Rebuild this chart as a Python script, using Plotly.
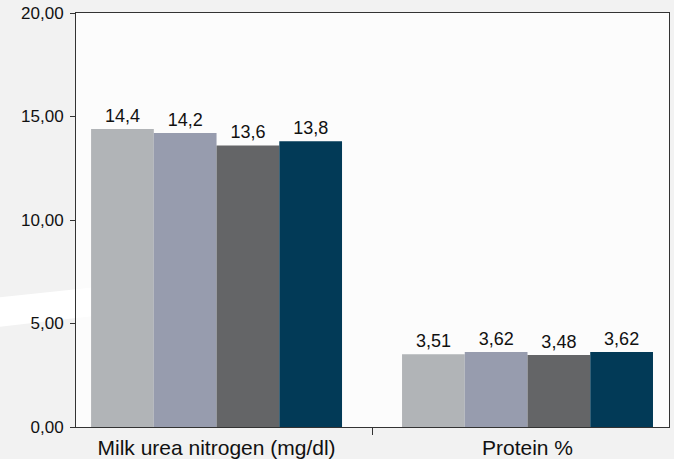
import plotly.graph_objects as go

categories = ["Milk urea nitrogen (mg/dl)", "Protein %"]
series_names = ["Group 1", "Group 2", "Group 3", "Group 4"]
series_values = [
    [14.4, 3.51],
    [14.2, 3.62],
    [13.6, 3.48],
    [13.8, 3.62],
]
series_labels = [
    ["14,4", "3,51"],
    ["14,2", "3,62"],
    ["13,6", "3,48"],
    ["13,8", "3,62"],
]
colors = ["#b1b4b7", "#979cae", "#646567", "#023a57"]
y_ticks = [0, 5, 10, 15, 20]

FONT = "Liberation Sans, Arial, sans-serif"

fig = go.Figure()
for name, vals, labs, col in zip(series_names, series_values, series_labels, colors):
    fig.add_trace(go.Bar(
        x=categories, y=vals, name=name, marker=dict(color=col, line=dict(width=0)),
        text=labs, textposition="outside", cliponaxis=False,
        textfont=dict(family=FONT, size=18, color="#111111"),
    ))

# decorative background swoosh
fig.add_shape(type="path", xref="paper", yref="paper", layer="below",
              path="M -0.2 0.302 L 0 0.333 L 0.3 0.38 L 0.3 0.31 L 0 0.263 L -0.2 0.23 Z",
              fillcolor="#ffffff", line=dict(width=0))

fig.update_layout(
    width=674, height=459,
    margin=dict(l=76, r=5, t=13, b=32),
    paper_bgcolor="#f2f2f2",
    plot_bgcolor="#fcfcfc",
    barmode="group", bargap=0.193, bargroupgap=0,
    showlegend=False,
    separators=",.",
    font=dict(family=FONT, size=17, color="#111111"),
)
fig.update_xaxes(
    range=[-0.452, 1.455], showline=True, linecolor="#333333", linewidth=1, mirror=True,
    ticks="outside", tickson="boundaries", ticklen=7, tickcolor="#333333",
    showgrid=False, tickfont=dict(family=FONT, size=21), ticklabelstandoff=2,
    automargin=False,
)
fig.update_yaxes(
    range=[0, 20], tickvals=y_ticks, tickformat=".2f", showline=True, linecolor="#333333",
    linewidth=1, mirror=True, ticks="outside", ticklen=5, tickcolor="#333333",
    showgrid=False, zeroline=False, tickfont=dict(size=17), ticklabelstandoff=3,
    automargin=False,
)
fig.write_html("out.html", config={"displayModeBar": False},
               post_script="document.body.style.margin='0';document.body.style.overflow='hidden';")
